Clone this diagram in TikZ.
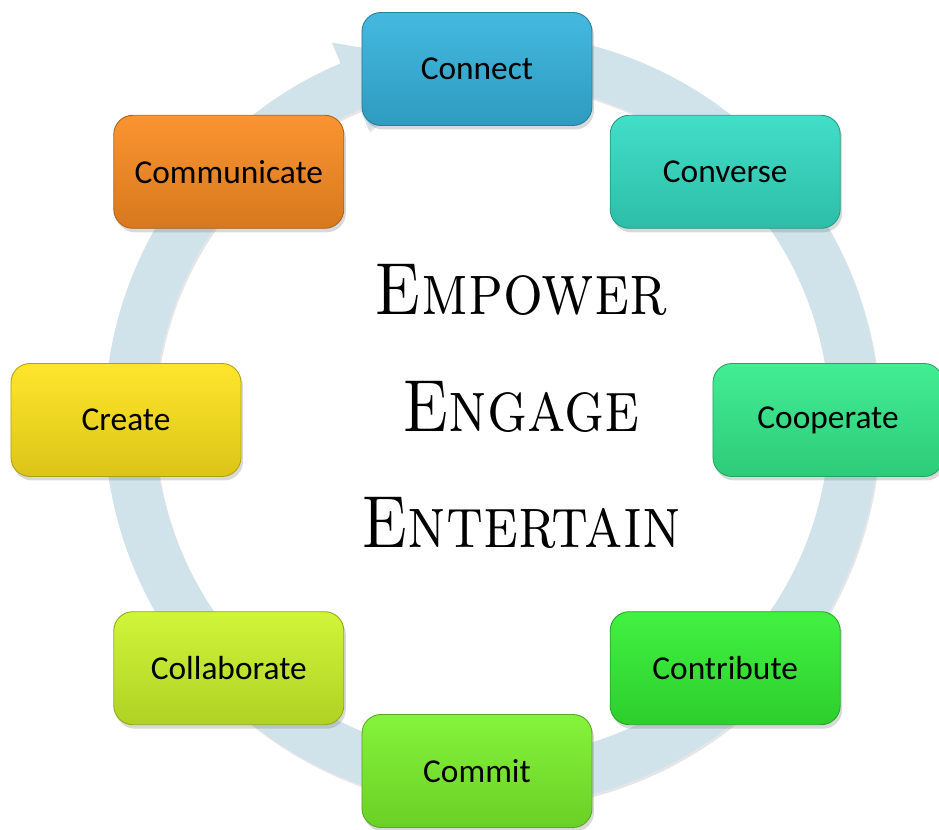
\documentclass[tikz,border=0pt]{standalone}
\usepackage{fontspec}
\newfontfamily\boxfont{Carlito}
\usetikzlibrary{shadows}

\definecolor{ringblue}{HTML}{D0E2EA}
\definecolor{cConnect}{HTML}{36B4DE}
\definecolor{cConverse}{HTML}{34DCC4}
\definecolor{cCooperate}{HTML}{34EC8C}
\definecolor{cContribute}{HTML}{34F034}
\definecolor{cCommit}{HTML}{7CF22C}
\definecolor{cCollaborate}{HTML}{CCF42A}
\definecolor{cCreate}{HTML}{FFE41C}
\definecolor{cCommunicate}{HTML}{FA8C22}

\begin{document}
\begin{tikzpicture}[
    stepbox/.style={draw=#1!70!black, line width=0.5pt, rounded corners=0.38cm,
      minimum width=4.6cm, minimum height=2.26cm,
      top color=#1!93!white, bottom color=#1!86!black,
      drop shadow={shadow xshift=0.04cm, shadow yshift=-0.08cm, opacity=0.3},
      font=\boxfont\fontsize{19}{22}\selectfont, text=black},
    motto/.style={anchor=base, xscale=0.85, transform shape,
      font=\scshape\fontsize{42}{46}\selectfont}
  ]
  \useasboundingbox (-9.54,-8.2) rectangle (9.24,8.4);

  % the cycle arrow, running clockwise into Connect
  \def\rin{6.75} \def\rout{7.75} \def\rmid{7.25}
  \begin{scope}[shift={(0.3,0)}]
    \fill[ringblue, drop shadow={shadow xshift=0.03cm, shadow yshift=-0.05cm, opacity=0.2}]
      (85:\rout) arc[start angle=85, end angle=-247, radius=\rout]
      -- (-247:{\rout+0.45}) -- (-262:\rmid) -- (-247:{\rin-0.45}) -- (-247:\rin)
      arc[start angle=-247, end angle=85, radius=\rin] -- cycle;
  \end{scope}

  % the eight steps
  \foreach \nm/\txt/\ang in {Connect/Connect/90, Converse/Converse/45,
      Cooperate/Cooperate/0, Contribute/Contribute/-45, Commit/Commit/-90,
      Collaborate/Collaborate/-135, Create/Create/180, Communicate/Communicate/135}
    \node[stepbox=c\nm] (\nm) at (\ang:7.02) {\txt};

  % centre text
  \node[motto] (empower) at (0.88,2.1) {Empower};
  \node[motto] (engage) at (0.88,-0.24) {Engage};
  \node[motto] (entertain) at (0.88,-2.56) {Entertain};
\end{tikzpicture}
\end{document}
